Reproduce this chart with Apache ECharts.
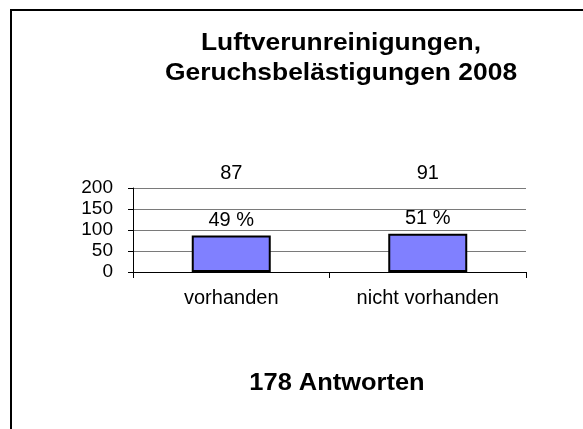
<!DOCTYPE html>
<html>
<head>
<meta charset="utf-8">
<script src="https://cdn.jsdelivr.net/npm/echarts@6/dist/echarts.min.js"></script>
<style>
  html, body { margin: 0; padding: 0; background: #fff; }
  #chart { width: 583px; height: 429px; }
</style>
</head>
<body>
<div id="chart"></div>
<script>
var categories = ['vorhanden', 'nicht vorhanden'];
var counts = [87, 91];
var percents = [49, 51];
var yTicks = [0, 50, 100, 150, 200];
var titleLines = ['Luftverunreinigungen,', 'Geruchsbelästigungen 2008'];
var totalText = '178 Antworten';

var font = '"Liberation Sans", Arial, sans-serif';
var chart = echarts.init(document.getElementById('chart'));

var option = {
    backgroundColor: '#ffffff',
    animation: false,
    graphic: [{
        type: 'rect',
        shape: { x: 11, y: 10, width: 700, height: 500 },
        style: { fill: 'none', stroke: '#000', lineWidth: 2 }
    }, {
        // title, slightly stretched like the source picture
        type: 'text',
        x: 341, y: 28,
        scaleX: 1.1,
        style: {
            text: titleLines.join('\n'),
            font: 'bold 24px ' + font,
            fill: '#000',
            align: 'center',
            verticalAlign: 'top',
            lineHeight: 30
        }
    }, {
        type: 'text',
        x: 337, y: 383,
        scaleX: 1.06,
        style: {
            text: totalText,
            font: 'bold 24px ' + font,
            fill: '#000',
            align: 'center',
            verticalAlign: 'middle'
        }
    }],
    grid: { left: 133, right: 57, top: 188, bottom: 157 },
    xAxis: [{
        type: 'category',
        data: categories,
        axisLine: { lineStyle: { color: '#000', width: 1 } },
        axisTick: { show: true, length: 6, lineStyle: { color: '#000' } },
        axisLabel: { color: '#000', fontFamily: font, fontSize: 20, margin: 16 }
    }, {
        type: 'category',
        position: 'top',
        data: counts.map(String),
        axisLine: { show: false },
        axisTick: { show: false },
        axisLabel: { color: '#000', fontFamily: font, fontSize: 20, margin: 5 }
    }],
    yAxis: {
        type: 'value',
        min: yTicks[0],
        max: yTicks[yTicks.length - 1],
        interval: 50,
        axisLine: { show: true, lineStyle: { color: '#000', width: 1 } },
        axisTick: { show: true, length: 5, lineStyle: { color: '#000' } },
        axisLabel: { color: '#000', fontFamily: font, fontSize: 19, margin: 20 },
        splitLine: { lineStyle: { color: '#7a7a7a', width: 1 } }
    },
    series: [{
        type: 'bar',
        data: counts,
        barWidth: 79,
        itemStyle: { color: '#8080ff', borderColor: '#000', borderWidth: 2 },
        label: {
            show: true,
            position: 'top',
            distance: 5,
            color: '#000',
            fontFamily: font,
            fontSize: 20,
            formatter: function (p) { return percents[p.dataIndex] + ' %'; }
        }
    }]
};
chart.setOption(option);
</script>
</body>
</html>
